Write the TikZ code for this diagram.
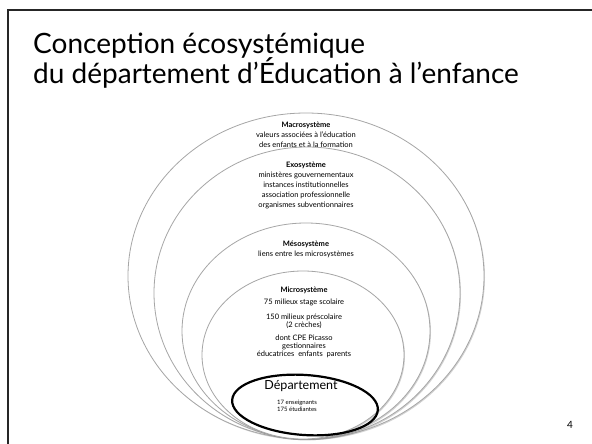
\documentclass[tikz,border=0pt]{standalone}
\usepackage{fontspec}
\setmainfont{Lato}
\usetikzlibrary{shapes.geometric,shadows}

\begin{document}
\begin{tikzpicture}[x=1pt,y=-1pt]
  \def\fs{7.5}
  \def\ls{9.8}

\tikzstyle{sphere}=[ellipse,fill=white,draw=black!35,line width=0.8pt,inner sep=0pt,drop shadow={opacity=0.35,shadow xshift=1pt,shadow yshift=-1.2pt}]
\tikzstyle{txt}=[align=center,inner sep=0pt,anchor=base,font=\fontsize{\fs}{\ls}\selectfont]
\tikzstyle{title}=[anchor=base west,inner sep=0pt,font=\fontsize{28}{34}\selectfont]
\useasboundingbox (0,0) rectangle (592,444);
\draw[line width=2pt,black!85] (592,10) -- (7.5,10) -- (7.5,444);
\node[title] (title1) at (33,54) {Conception écosystémique};
\node[title] (title2) at (33,84) {du département d’Éducation à l’enfance};
% systemes (base = derniere ligne)
\node[sphere,minimum width=356,minimum height=326] (macro) at (306,276) {};
\node[txt] (macrotxt) at (306,147) {\textbf{Macrosystème}\\valeurs associées à l’éducation\\des enfants et à la formation};
\node[sphere,minimum width=306,minimum height=292] (exo) at (307,293) {};
\node[txt] (exotxt) at (306,207) {\textbf{Exosystème}\\ministères gouvernementaux\\instances institutionnelles\\association professionnelle\\organismes subventionnaires};
\node[sphere,minimum width=248,minimum height=216] (meso) at (306,331) {};
\node[txt] (mesotxt) at (306,256) {\textbf{Mésosystème}\\liens entre les microsystèmes};
\node[sphere,minimum width=202,minimum height=168] (micro) at (303,355) {};
\node[txt,font=\fontsize{\fs}{7.8}\selectfont] (microtxt) at (304,356) {\textbf{Microsystème}\\[4.2pt]75 milieux stage scolaire\\[7.2pt]150 milieux préscolaire\\(2 crèches)\\[5.2pt]dont CPE Picasso\\gestionnaires\\éducatrices\ \ enfants\ \ parents};
% departement
\node[ellipse,draw,line width=2.2pt,minimum width=146,minimum height=60,rotate=-4] (dept) at (305,405) {};
\node[txt,font=\fontsize{12.5}{14}\selectfont] (depttxt) at (301,389) {Département};
\node[txt,font=\fontsize{6}{7}\selectfont] (deptinfo) at (297,411) {17 enseignants\\175 étudiantes};
\node[anchor=base,inner sep=0pt,font=\fontsize{10}{12}\selectfont] (page) at (570,428) {4};
\end{tikzpicture}
\end{document}
